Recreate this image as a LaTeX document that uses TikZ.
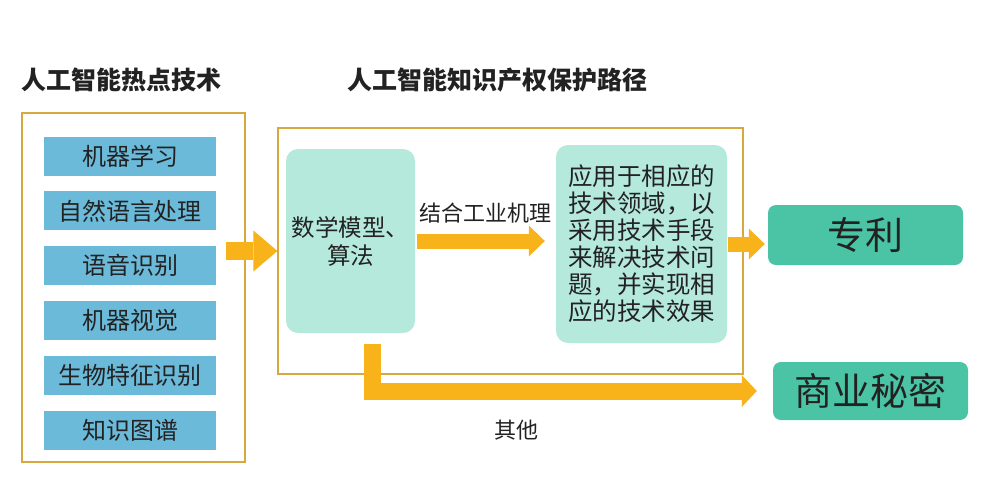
\documentclass[tikz,border=0pt]{standalone}
\usepackage{fontspec}
\setmainfont{Noto Sans CJK SC}
\usetikzlibrary{arrows.meta,positioning}
\definecolor{ink}{RGB}{34,34,34}
\definecolor{frameline}{RGB}{214,168,62}
\definecolor{skyblue}{RGB}{108,186,217}
\definecolor{mint}{RGB}{180,233,220}
\definecolor{teal}{RGB}{74,196,164}
\definecolor{gold}{RGB}{248,178,26}
\tikzset{
  frame/.style={draw=frameline, line width=1.2pt, inner sep=0pt},
  title/.style={anchor=west, text=ink, font=\fontsize{25}{28}\selectfont\bfseries},
  techbox/.style={fill=skyblue, text=ink, minimum width=172pt, minimum height=39pt, font=\fontsize{24}{28}\selectfont},
  stepbox/.style={fill=mint, text=ink, rounded corners=12pt, align=center, inner sep=0pt},
  result/.style={fill=teal, text=ink, rounded corners=8pt, minimum width=195pt, font=\fontsize{38}{42}\selectfont},
  fatarrow/.style={draw=gold, line width=15pt, -{Triangle[length=16pt,width=31pt,line width=0pt]}},
  note/.style={text=ink, font=\fontsize{22}{26}\selectfont}
}
\begin{document}
\begin{tikzpicture}[x=1pt,y=-1pt,node distance=15.5pt]
\useasboundingbox (0,0) rectangle (986,480);
% titles
\node[title] (lefttitle) at (18,80) {人工智能热点技术};
\node[title] (midtitle) at (344,80) {人工智能知识产权保护路径};
% frames
\node[frame, minimum width=223pt, minimum height=349pt] (techframe) at (133.5,287.5) {};
\node[frame, minimum width=465pt, minimum height=246pt] (midframe) at (510.5,251) {};
% hot technologies
\node[techbox] (ml) at (130,156) {机器学习};
\node[techbox,below=of ml] (nlp) {自然语言处理};
\node[techbox,below=of nlp] (speech) {语音识别};
\node[techbox,below=of speech] (vision) {机器视觉};
\node[techbox,below=of vision] (bio) {生物特征识别};
\node[techbox,below=of bio] (graph) {知识图谱};
% path
\node[stepbox, minimum width=129pt, minimum height=184pt, font=\fontsize{23.5}{28}\selectfont] (model) at (350.5,241) {数学模型、\\算法};
\node[stepbox, minimum width=171pt, minimum height=198pt, font=\fontsize{24.5}{27}\selectfont] (effect) at (641.5,244) {应用于相应的\\技术领域，以\\采用技术手段\\来解决技术问\\题，并实现相\\应的技术效果};
\node[result, minimum height=60pt] (patent) at (865.5,235) {专利};
\node[result, minimum height=58pt] (secret) at (870.5,391) {商业秘密};
% arrows
\coordinate (in) at (226,251);
\coordinate (other) at ([xshift=22pt,yshift=-11pt]model.south);
\draw[fatarrow, line width=18pt, -{Triangle[length=24pt,width=41pt,line width=0pt]}] (in) -- (in -| midframe.west);
\draw[fatarrow, shorten <=2pt, shorten >=11pt] (model.east) -- (model.east -| effect.west)
  node[note, midway, above=7pt] {结合工业机理};
\draw[fatarrow, shorten <=1pt, shorten >=3pt] (effect.east) -- (effect.east -| patent.west);
\draw[fatarrow, line width=17pt, -{Triangle[length=15pt,width=32pt,line width=0pt]}, shorten >=16pt] (other) |- (secret.west)
  node[note, pos=0.68, below=17pt] {其他};
\end{tikzpicture}
\end{document}
